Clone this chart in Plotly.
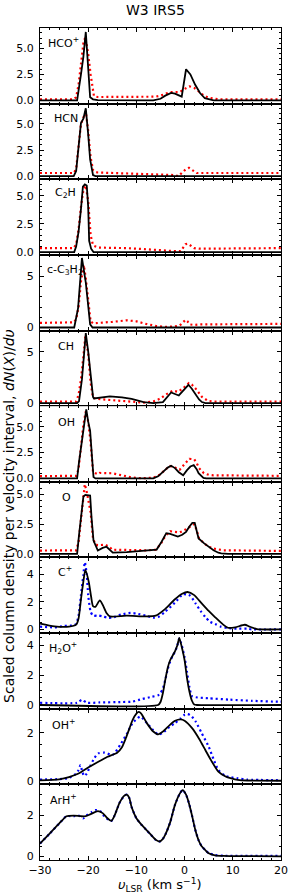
import plotly.graph_objects as go
from plotly.subplots import make_subplots

# ---------------- data (velocity in km/s, scaled column density) ----------------
hco_v_solid = [-30, -22.3, -21.5, -21, -20.5, -20, -19.6, -19, -18, -6.5, -5, -4, -2.8, -2, -1.0, -0.6, 0.3, 1.2, 2.2, 3.2, 4.2, 5.2, 6, 20]
hco_solid = [0, 0, 2.5, 4.2, 6.6, 3.6, 0.3, 0.1, 0.02, 0.0, 0.15, 0.45, 0.72, 0.65, 0.38, 0.35, 3.0, 2.5, 1.5, 0.7, 0.2, 0.05, 0.0, 0.0]
hco_v_dot = [-30, -23, -22.5, -22, -21.5, -21, -20.6, -20, -19.5, -19, -18.8, -18, -8, -6, -5, -4, -3, -2, -1, 0, 1, 2, 3, 4, 5, 6, 7, 20]
hco_dot = [0.1, 0.1, 0.3, 1.5, 3.5, 5.5, 6.1, 4.5, 2.5, 1.2, 0.4, 0.32, 0.3, 0.35, 0.45, 0.65, 0.8, 0.8, 0.8, 1.1, 1.35, 1.2, 0.8, 0.45, 0.25, 0.15, 0.1, 0.1]

hcn_v_solid = [-30, -23, -22.5, -22, -21.5, -21, -20.5, -20, -19.6, -19, -18.5, 20]
hcn_solid = [0, 0, 0.5, 2.8, 5.1, 5.5, 6.5, 4.0, 1.6, 0.1, 0, 0]
hcn_v_dot = [-30, -23, -22.5, -22, -21.5, -21, -20.5, -20, -19.5, -19, -18.5, -18, -15, -10, -5, -2, -1.3, 0.2, 0.9, 1.5, 2.5, 3.5, 20]
hcn_dot = [0.3, 0.3, 0.7, 2.8, 5.0, 5.6, 6.2, 4.3, 1.8, 0.6, 0.4, 0.35, 0.3, 0.2, 0.15, 0.1, 0.0, 0.64, 0.8, 0.6, 0.3, 0.3, 0.3]

c2h_v_solid = [-30, -22.9, -22.5, -22, -21.5, -21.1, -20.7, -20.3, -20, -19.8, -19.4, -18.9, 20]
c2h_solid = [0, 0, 0.5, 1.8, 3.8, 5.8, 6.0, 5.9, 4.0, 1.0, 0.3, 0.0, 0]
c2h_v_dot = [-30, -23, -22.5, -22, -21.5, -21, -20.5, -20, -19.5, -19, -18, -12, -8, -5, -2.5, -0.8, 0.2, 0.7, 1.25, 2, 3, 20]
c2h_dot = [0.35, 0.35, 0.7, 2.0, 4.0, 5.5, 5.9, 4.5, 1.5, 0.6, 0.4, 0.35, 0.25, 0.15, 0.1, 0.08, 0.7, 0.74, 0.55, 0.35, 0.3, 0.35]

cc3h2_v_solid = [-30, -22.9, -22.1, -21.7, -21.3, -20.5, -20, -19.6, -19.1, 20]
cc3h2_solid = [0, 0, 1.9, 4.0, 6.8, 4.4, 2.0, 0.3, 0.0, 0]
cc3h2_v_dot = [-30, -23, -22.5, -22, -21.5, -20.9, -20.5, -20, -19.5, -19, -17, -15, -12, -10, -8, -6, -4, -2, -1, 0.2, 0.6, 1, 2, 3, 20]
cc3h2_dot = [0.45, 0.5, 0.8, 2.0, 4.5, 6.1, 4.8, 2.5, 0.6, 0.4, 0.45, 0.55, 0.7, 0.6, 0.35, 0.15, 0.05, 0.1, 0.2, 0.75, 0.6, 0.3, 0.25, 0.3, 0.35]

ch_v_solid = [-30, -22.3, -21.9, -21.3, -20.9, -20.5, -20, -19.6, -19, -18.8, -18, -15.5, -13, -11, -8.5, -6.5, -4.5, -3.5, -2.8, -1.2, 0.8, 1.5, 2.3, 3, 3.6, 4.3, 20]
ch_solid = [0, 0, 0.2, 2.3, 4.5, 6.8, 5.0, 3.3, 0.6, 0.45, 0.5, 0.65, 0.55, 0.4, 0.1, 0, 0.1, 0.6, 1.03, 0.74, 1.78, 1.4, 0.8, 0.35, 0.1, 0, 0]
ch_v_dot = [-30, -22.5, -22, -21.5, -21, -20.6, -20, -19.5, -19, -18, -16, -14, -11, -8.5, -6.5, -5, -4, -3, -2.4, -1.4, -0.4, 0.9, 1.5, 2.3, 3, 3.6, 4.9, 6, 20]
ch_dot = [0.15, 0.15, 0.8, 2.3, 4.5, 6.5, 4.8, 2.0, 0.5, 0.4, 0.32, 0.25, 0.15, 0.05, 0.15, 0.45, 0.8, 1.1, 1.22, 1.1, 1.4, 1.94, 1.8, 1.4, 0.95, 0.6, 0.2, 0.15, 0.15]

oh_v_solid = [-30, -22.3, -21.9, -21.3, -20.9, -20.4, -20, -19.6, -19.2, -18.9, -18.5, -6.5, -5.5, -4.5, -3.5, -2.8, -2, -1.2, -0.3, 0.5, 1.2, 1.9, 2.5, 2.9, 3.9, 4.5, 20]
oh_solid = [0, 0, 1.6, 3.5, 5.0, 6.7, 5.5, 4.6, 2.0, 0.13, 0, 0, 0.2, 0.6, 1.05, 1.22, 1.0, 0.6, 0.3, 0.8, 1.15, 1.29, 0.9, 0.5, 0.05, 0, 0]
oh_v_dot = [-30, -22.5, -22, -21.5, -21, -20.5, -20, -19.5, -19, -18, -17.6, -15, -13, -11, -9, -7, -6, -5, -4, -3, -2, -1, 0, 1, 2, 2.5, 3, 4, 5, 6, 20]
oh_dot = [0.22, 0.25, 0.9, 3.0, 5.2, 6.5, 5.5, 3.5, 0.6, 0.4, 0.53, 0.5, 0.3, 0.1, 0.02, 0.05, 0.15, 0.4, 0.85, 1.2, 1.05, 0.85, 1.4, 1.9, 1.85, 1.5, 1.0, 0.5, 0.35, 0.3, 0.25]

o_v_solid = [-30, -22.3, -21.9, -21.5, -21, -20.6, -20, -19.6, -19.3, -18.9, -18.0, -17, -16.2, -15.5, -14.9, -12, -8, -6.5, -5.8, -4.8, -3.8, -3.0, -2.2, -1.4, -0.5, 0.3, 1, 1.6, 2.1, 2.9, 4, 4.9, 6, 7, 7.6, 9, 20]
o_solid = [0, 0, 1.6, 3.3, 4.8, 4.95, 4.95, 4.9, 3.0, 1.12, 0.28, 0.5, 0.6, 0.3, 0.1, 0.15, 0.25, 0.33, 0.36, 1.0, 1.74, 1.68, 1.55, 1.46, 1.6, 1.85, 2.3, 2.6, 2.6, 1.3, 0.9, 0.6, 0.3, 0.1, 0.05, 0, 0]
o_v_dot = [-30, -22.5, -22, -21.5, -21, -20.7, -20.3, -20, -19.5, -19, -18.5, -18, -16.5, -15.5, -15, -8, -6, -5, -4, -3, -2, -1, 0, 1, 2, 2.5, 3, 4, 5, 6, 7, 8, 20]
o_dot = [0.28, 0.3, 1.0, 3.0, 5.0, 5.85, 5.2, 4.5, 3.5, 1.3, 0.8, 0.72, 0.78, 0.55, 0.35, 0.3, 0.35, 0.8, 1.5, 1.9, 1.85, 1.8, 2.0, 2.25, 2.5, 2.0, 1.3, 0.9, 0.6, 0.45, 0.35, 0.3, 0.25]

cp_v_solid = [-30, -27, -24, -22.5, -22, -21.5, -21, -20.6, -19.9, -19.4, -19, -18.5, -17.6, -17, -16.2, -15.5, -12, -8, -6, -4, -2, -0.5, 0.6, 2, 3.6, 5, 6.3, 8, 9, 10.5, 12.5, 13.5, 15, 20]
cp_solid = [0.42, 0.22, 0.2, 0.35, 0.8, 2.2, 3.5, 4.34, 3.5, 2.4, 1.7, 1.65, 2.12, 1.8, 1.2, 0.95, 1.0, 0.95, 1.0, 1.5, 2.2, 2.6, 2.73, 2.5, 1.88, 1.35, 0.9, 0.35, 0.12, 0.15, 0.34, 0.2, 0.02, 0]
cp_v_dot = [-30, -27, -25, -23, -22.5, -22, -21.5, -21, -20.7, -20.3, -20, -19.5, -19, -18, -17, -16, -15, -13, -11.2, -10, -8, -6.5, -5.5, -4, -2, -0.4, 0.5, 1.2, 2.3, 3.3, 4.3, 5.3, 6.3, 7.5, 9, 11, 13, 14, 20]
cp_dot = [0.2, 0.15, 0.25, 0.3, 0.4, 1.0, 2.5, 4.0, 4.9, 4.0, 2.5, 1.3, 1.0, 1.02, 0.95, 0.85, 0.86, 1.1, 1.2, 1.15, 1.0, 0.86, 0.9, 1.3, 1.95, 2.56, 2.55, 2.45, 1.88, 1.35, 0.9, 0.55, 0.4, 0.2, 0.1, 0.05, 0.05, 0.0, 0.0]

h2op_v_solid = [-30, -5.5, -5, -4.5, -4, -3.5, -3, -2.5, -2, -1.5, -1.1, -0.6, 0, 0.5, 1, 1.5, 2, 2.5, 20]
h2op_solid = [0, 0, 0.2, 0.8, 1.7, 2.5, 3.0, 3.3, 3.6, 4.0, 4.5, 3.9, 3.0, 1.8, 0.9, 0.3, 0.03, 0, 0]
h2op_v_dot = [-30, -22.3, -21.3, -20.3, -17.6, -13, -10.9, -8.8, -6.8, -5.5, -5, -4.5, -4, -3.5, -3, -2.5, -2, -1.5, -1.1, -0.6, 0, 0.5, 1, 1.5, 2.3, 5, 9.3, 14, 19.4, 20]
h2op_dot = [0.15, 0.15, 0.35, 0.15, 0.17, 0.2, 0.22, 0.4, 0.55, 0.65, 0.8, 1.1, 1.7, 2.4, 2.9, 3.3, 3.55, 4.0, 4.45, 4.0, 3.2, 2.2, 1.2, 0.6, 0.52, 0.45, 0.36, 0.28, 0.22, 0.22]

ohp_v_solid = [-30, -26, -24, -22, -20, -18, -16, -14, -13, -12.2, -11.5, -10.8, -10, -9.5, -9, -7.8, -6.5, -5.5, -4.5, -3.1, -2, -0.8, 0, 1.6, 3, 4.3, 5.5, 7, 8.5, 9.7, 11, 13, 20]
ohp_solid = [0.02, 0.06, 0.15, 0.3, 0.55, 0.78, 1.0, 1.17, 1.4, 1.77, 2.15, 2.53, 2.8, 2.87, 2.8, 2.39, 2.05, 1.93, 2.05, 2.32, 2.5, 2.56, 2.5, 2.18, 1.75, 1.28, 0.85, 0.38, 0.18, 0.1, 0.04, 0.01, 0]
ohp_v_dot = [-30, -26, -24, -22.5, -22, -21.6, -21.2, -20.8, -20.3, -19.5, -18.7, -17.9, -16.6, -14.9, -13.2, -12, -10.8, -9.2, -7.8, -6.5, -5.5, -4.5, -3.1, -2, -0.8, 0, 0.6, 1.3, 2.3, 3.5, 5, 6, 7, 8.5, 11, 13, 20]
ohp_dot = [0.05, 0.07, 0.12, 0.3, 0.45, 0.65, 0.35, 0.2, 0.3, 0.65, 0.95, 1.14, 1.17, 1.08, 1.55, 1.95, 2.4, 2.67, 2.4, 2.1, 1.93, 2.0, 2.25, 2.4, 2.6, 2.75, 2.78, 2.72, 2.46, 2.0, 1.42, 0.9, 0.45, 0.2, 0.1, 0.05, 0.02]

arhp_v_solid = [-30, -28, -26, -24.5, -23, -21.5, -20.5, -19.5, -18, -17, -16, -15.2, -14.5, -13.5, -12.5, -12, -11.5, -11, -10, -9, -8, -7, -6, -5.2, -4.5, -4, -3, -2, -1, -0.4, 0.3, 1, 1.6, 2.2, 2.9, 3.5, 4.3, 5, 6.3, 8, 20]
arhp_solid = [0.62, 1.1, 1.6, 1.95, 1.98, 1.95, 1.95, 2.05, 2.2, 2.1, 1.85, 1.72, 2.0, 2.6, 2.95, 3.0, 2.85, 2.4, 1.85, 1.55, 1.3, 1.05, 0.8, 0.72, 0.85, 1.05, 1.65, 2.5, 3.05, 3.22, 3.0, 2.5, 1.92, 1.3, 0.78, 0.5, 0.3, 0.15, 0.05, 0.02, 0.0]
arhp_v_dot = [-30, -28, -26, -24.5, -23, -22, -21, -20.3, -19.3, -18.5, -17.5, -16.5, -15.2, -14.5, -13.5, -12.5, -12, -11.5, -11, -10, -9, -8, -7, -6, -5.2, -4.5, -4, -3, -2, -1, -0.4, 0.3, 1, 1.6, 2.2, 2.9, 3.5, 4.3, 5, 6.3, 8, 20]
arhp_dot = [0.62, 1.1, 1.6, 1.95, 1.95, 1.98, 1.85, 2.0, 2.15, 2.25, 2.2, 1.9, 1.72, 2.0, 2.6, 2.95, 3.0, 2.85, 2.4, 1.85, 1.55, 1.3, 1.05, 0.8, 0.72, 0.85, 1.05, 1.65, 2.5, 3.05, 3.22, 3.0, 2.5, 1.92, 1.3, 0.78, 0.5, 0.3, 0.15, 0.06, 0.03, 0.02]

species_labels = ["HCO<sup>+</sup>", "HCN", "C<sub>2</sub>H", "c-C<sub>3</sub>H<sub>2</sub>", "CH", "OH", "O",
                  "C<sup>+</sup>", "H<sub>2</sub>O<sup>+</sup>", "OH<sup>+</sup>", "ArH<sup>+</sup>"]
y_ranges = [[-0.32, 6.98], [-0.3, 6.95], [-0.25, 6.45], [-0.3, 7.1], [-0.3, 7.05], [-0.33, 7.0],
            [-0.3, 6.05], [-0.27, 5.25], [-0.25, 4.82], [-0.15, 3.0], [-0.18, 3.5]]
y_dticks = [2.5, 2.5, 2.5, 5, 5, 2.5, 2.5, 2, 2, 2, 2]
y_minor = [0.5, 0.5, 0.5, 1, 1, 0.5, 0.5, 0.5, 0.5, 0.5, 0.5]
x_ticks = [-30, -20, -10, 0, 10, 20]

solid_v = [hco_v_solid, hcn_v_solid, c2h_v_solid, cc3h2_v_solid, ch_v_solid, oh_v_solid, o_v_solid,
           cp_v_solid, h2op_v_solid, ohp_v_solid, arhp_v_solid]
solid_y = [hco_solid, hcn_solid, c2h_solid, cc3h2_solid, ch_solid, oh_solid, o_solid,
           cp_solid, h2op_solid, ohp_solid, arhp_solid]
dot_v = [hco_v_dot, hcn_v_dot, c2h_v_dot, cc3h2_v_dot, ch_v_dot, oh_v_dot, o_v_dot,
         cp_v_dot, h2op_v_dot, ohp_v_dot, arhp_v_dot]
dot_y = [hco_dot, hcn_dot, c2h_dot, cc3h2_dot, ch_dot, oh_dot, o_dot,
         cp_dot, h2op_dot, ohp_dot, arhp_dot]

# ---------------- styling ----------------
FONT = "DejaVu Sans"
dot_colors = ["#ff0000"] * 7 + ["#0000ff"] * 4
smooth = [False] * 7 + [True] * 4
label_x_px = [46, 52, 53, 45, 56, 56, 61, 56, 47, 50, 48]
label_dy_px = [15, 15, 14, 15, 16, 16, 16, 14, 15, 16, 15]

W, H = 295, 895
L, R, T, B = 40, 7, 28, 35
pw = W - L - R
ph = H - T - B
n = len(species_labels)
panel_h = ph / n


def py(p):
    """pixel row (from top of figure) -> paper y"""
    return (T + ph - p) / ph


def px(p):
    """pixel column -> paper x"""
    return (p - L) / pw


fig = make_subplots(rows=n, cols=1, shared_xaxes=True, vertical_spacing=0)

for i in range(n):
    row = i + 1
    shape = "spline" if smooth[i] else "linear"
    fig.add_trace(go.Scatter(x=dot_v[i], y=dot_y[i], mode="lines",
                             line=dict(color=dot_colors[i], width=2.2, dash="2px,3px", shape=shape, smoothing=0.6),
                             showlegend=False, hoverinfo="skip"), row=row, col=1)
    fig.add_trace(go.Scatter(x=solid_v[i], y=solid_y[i], mode="lines",
                             line=dict(color="black", width=1.8, shape=shape, smoothing=0.6),
                             showlegend=False, hoverinfo="skip"), row=row, col=1)
    fmt = ".1f" if y_dticks[i] == 2.5 else "d"
    fig.update_yaxes(range=y_ranges[i], dtick=y_dticks[i], tick0=0, tickformat=fmt,
                     ticks="inside", ticklen=4, tickwidth=1, tickcolor="black",
                     minor=dict(ticks="inside", ticklen=2, dtick=y_minor[i], tick0=0, tickcolor="black"),
                     mirror="allticks", showline=True, linecolor="black", linewidth=1,
                     showgrid=False, zeroline=False, ticklabelstandoff=3,
                     tickfont=dict(family=FONT, size=11, color="black"), row=row, col=1)
    fig.update_xaxes(range=[-30, 20], tickvals=x_ticks,
                     ticks="inside", ticklen=4, tickwidth=1, tickcolor="black",
                     minor=dict(ticks="inside", ticklen=2, dtick=2, tick0=-30, tickcolor="black"),
                     mirror="allticks", showline=True, linecolor="black", linewidth=1,
                     showgrid=False, zeroline=False,
                     tickfont=dict(family=FONT, size=11, color="black"), row=row, col=1)
    suffix = "" if row == 1 else str(row)
    fig.add_annotation(text=species_labels[i], xref=f"x{suffix} domain", yref=f"y{suffix} domain",
                       x=(label_x_px[i] - L) / pw, y=1 - label_dy_px[i] / panel_h,
                       xanchor="left", yanchor="middle", showarrow=False,
                       font=dict(family=FONT, size=11, color="black"))

fig.update_xaxes(showticklabels=True, ticklabelstandoff=0, row=n, col=1)

# title, axis titles
fig.add_annotation(text="W3 IRS5", xref="paper", yref="paper",
                   x=px(159), y=py(10), showarrow=False,
                   xanchor="center", yanchor="middle", font=dict(family=FONT, size=14, color="black"))
fig.add_annotation(text="<i>υ</i><sub>LSR</sub> (km s<sup>−1</sup>)", xref="paper", yref="paper",
                   x=px(163), y=py(885), showarrow=False,
                   xanchor="center", yanchor="middle", font=dict(family=FONT, size=13, color="black"))
fig.add_annotation(text="Scaled column density per velocity interval, <i>dN</i>(<i>X</i>)/<i>dυ</i>",
                   xref="paper", yref="paper", textangle=-90,
                   x=px(8), y=py(516), showarrow=False,
                   xanchor="center", yanchor="middle", font=dict(family=FONT, size=14, color="black"))

fig.update_layout(width=W, height=H, margin=dict(l=L, r=R, t=T, b=B, pad=0),
                  plot_bgcolor="white", paper_bgcolor="white",
                  font=dict(family=FONT, color="black"))

fig.write_html("out.html", config={"displayModeBar": False},
               post_script="document.body.style.margin='0';document.body.style.padding='0';"
                           "document.documentElement.style.overflow='hidden';")
